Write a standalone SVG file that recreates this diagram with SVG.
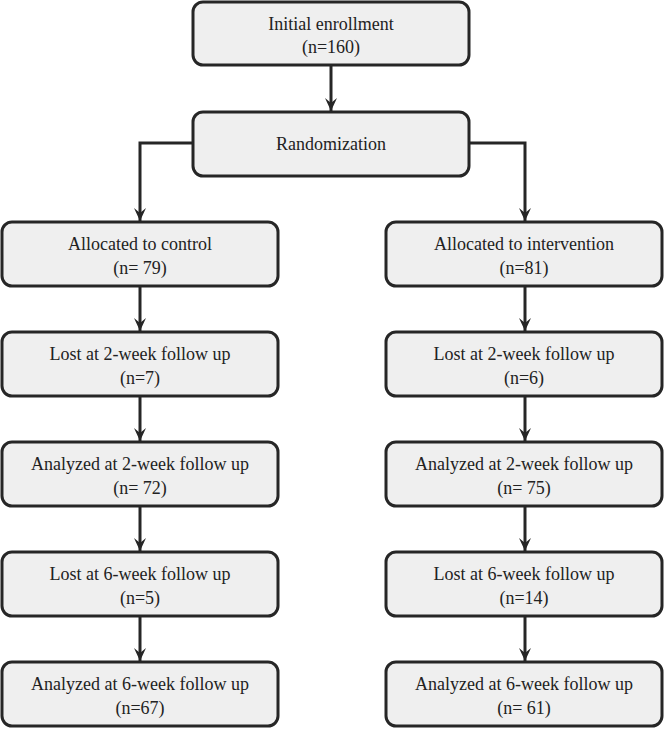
<svg xmlns="http://www.w3.org/2000/svg" width="664" height="729" viewBox="0 0 664 729">
<style>
.box{fill:#efefef;stroke:#262626;stroke-width:3}
.t{font-family:'Liberation Serif','Times New Roman',serif;font-size:18px;fill:#222;text-anchor:middle}
.c{fill:none;stroke:#262626;stroke-width:3}
</style>
<defs>
<marker id="ah" markerUnits="userSpaceOnUse" markerWidth="16" markerHeight="16" refX="8" refY="14" orient="0" viewBox="0 0 16 16">
<path d="M8,14 L2,1 L8,6 L14,1 Z" fill="#262626"/>
</marker>
</defs>
<rect width="664" height="729" fill="#ffffff"/>
<g id="connectors">
<path class="c" d="M331,65 V111" marker-end="url(#ah)"/>
<path class="c" d="M193,143 H140 V221" marker-end="url(#ah)"/>
<path class="c" d="M469,143 H525 V221" marker-end="url(#ah)"/>
<path class="c" d="M140,286 V331" marker-end="url(#ah)"/>
<path class="c" d="M140,396 V441" marker-end="url(#ah)"/>
<path class="c" d="M140,506 V551" marker-end="url(#ah)"/>
<path class="c" d="M140,616 V661" marker-end="url(#ah)"/>
<path class="c" d="M525,286 V331" marker-end="url(#ah)"/>
<path class="c" d="M525,396 V441" marker-end="url(#ah)"/>
<path class="c" d="M525,506 V551" marker-end="url(#ah)"/>
<path class="c" d="M525,616 V661" marker-end="url(#ah)"/>
</g>
<g id="enroll"><rect class="box" x="193" y="2" width="276" height="63" rx="10"/><text class="t" x="331" y="30">Initial enrollment</text><text class="t" x="331" y="53">(n=160)</text></g>
<g id="random"><rect class="box" x="193" y="112" width="276" height="64" rx="10"/><text class="t" x="331" y="150">Randomization</text></g>
<g id="alloc_c"><rect class="box" x="2" y="222" width="276" height="64" rx="10"/><text class="t" x="140" y="250">Allocated to control</text><text class="t" x="140" y="274">(n= 79)</text></g>
<g id="lost2_c"><rect class="box" x="2" y="332" width="276" height="64" rx="10"/><text class="t" x="140" y="360">Lost at 2-week follow up</text><text class="t" x="140" y="384">(n=7)</text></g>
<g id="an2_c"><rect class="box" x="2" y="442" width="276" height="64" rx="10"/><text class="t" x="140" y="470">Analyzed at 2-week follow up</text><text class="t" x="140" y="494">(n= 72)</text></g>
<g id="lost6_c"><rect class="box" x="2" y="552" width="276" height="64" rx="10"/><text class="t" x="140" y="580">Lost at 6-week follow up</text><text class="t" x="140" y="604">(n=5)</text></g>
<g id="an6_c"><rect class="box" x="2" y="662" width="276" height="64" rx="10"/><text class="t" x="140" y="690">Analyzed at 6-week follow up</text><text class="t" x="140" y="714">(n=67)</text></g>
<g id="alloc_i"><rect class="box" x="386" y="222" width="276" height="64" rx="10"/><text class="t" x="524" y="250">Allocated to intervention</text><text class="t" x="524" y="274">(n=81)</text></g>
<g id="lost2_i"><rect class="box" x="386" y="332" width="276" height="64" rx="10"/><text class="t" x="524" y="360">Lost at 2-week follow up</text><text class="t" x="524" y="384">(n=6)</text></g>
<g id="an2_i"><rect class="box" x="386" y="442" width="276" height="64" rx="10"/><text class="t" x="524" y="470">Analyzed at 2-week follow up</text><text class="t" x="524" y="494">(n= 75)</text></g>
<g id="lost6_i"><rect class="box" x="386" y="552" width="276" height="64" rx="10"/><text class="t" x="524" y="580">Lost at 6-week follow up</text><text class="t" x="524" y="604">(n=14)</text></g>
<g id="an6_i"><rect class="box" x="386" y="662" width="276" height="64" rx="10"/><text class="t" x="524" y="690">Analyzed at 6-week follow up</text><text class="t" x="524" y="714">(n= 61)</text></g>
</svg>
